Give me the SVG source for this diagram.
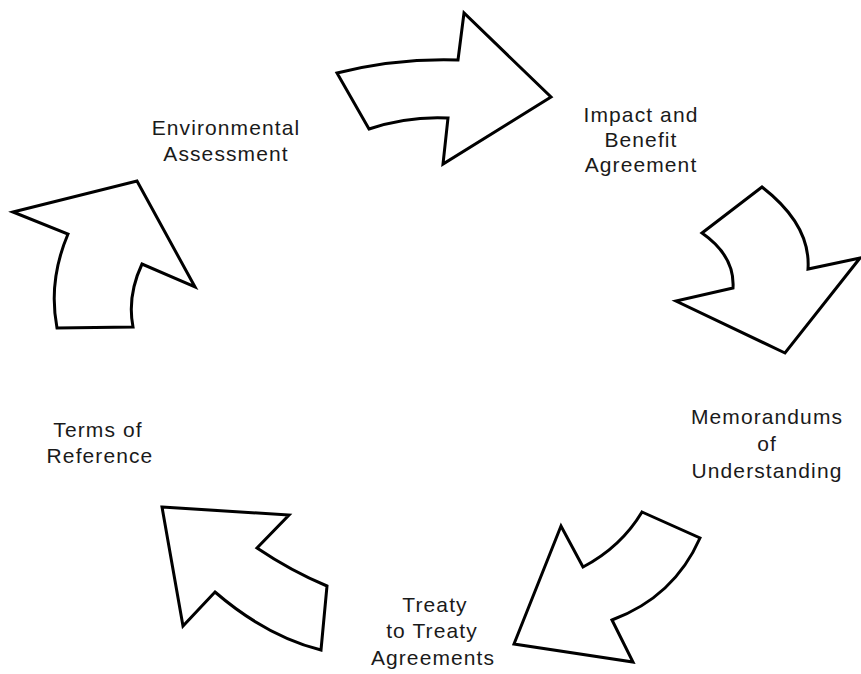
<svg xmlns="http://www.w3.org/2000/svg" width="861" height="674" viewBox="0 0 861 674">
  <style>
    .arrow { fill: #ffffff; stroke: #000000; stroke-width: 3; stroke-linejoin: miter; }
    .label { font-family: "Liberation Sans", Arial, sans-serif; font-size: 21px; letter-spacing: 1.1px; fill: #1a1a1a; text-anchor: middle; }
  </style>
  <rect width="861" height="674" fill="#ffffff"/>

  <!-- curved block arrows forming the cycle -->
  <g id="connectors">
    <path id="arrow-top" class="arrow" d="M337,73 Q397,58 458,60 L464,13 L551,97 L443,164 L448,118 Q408,116 369,129 Z"/>
    <path id="arrow-right" class="arrow" d="M762,187 L702,233 Q735,256 733,288 L676,301 L785,353 L860,258 L808,269 Q811,225 762,187 Z"/>
    <path id="arrow-bottom-right" class="arrow" d="M642,512 L700,538 Q674,597 612,620 L633,662 L514,644 L561,526 L583,567 Q621,547 642,512 Z"/>
    <path id="arrow-bottom-left" class="arrow" d="M162,507 L289,515 L257,548 Q291,571 327,586 L321,650 Q266,636 215,592 L183,626 Z"/>
    <path id="arrow-left" class="arrow" d="M13,212 L137,181 L195,287 L142,264 Q127,296 133,327 L57,328 Q48,281 68,234 Z"/>
  </g>

  <g id="environmental-assessment">
    <text class="label" x="226" y="135">Environmental</text>
    <text class="label" x="226" y="161">Assessment</text>
  </g>
  <g id="impact-benefit-agreement">
    <text class="label" x="641" y="122">Impact and</text>
    <text class="label" x="641" y="147">Benefit</text>
    <text class="label" x="641" y="172">Agreement</text>
  </g>
  <g id="memorandums-of-understanding">
    <text class="label" x="767" y="424">Memorandums</text>
    <text class="label" x="767" y="451">of</text>
    <text class="label" x="767" y="478">Understanding</text>
  </g>
  <g id="treaty-to-treaty-agreements">
    <text class="label" x="435" y="612">Treaty</text>
    <text class="label" x="432" y="638">to Treaty</text>
    <text class="label" x="433" y="665">Agreements</text>
  </g>
  <g id="terms-of-reference">
    <text class="label" x="98" y="437">Terms of</text>
    <text class="label" x="100" y="463">Reference</text>
  </g>
</svg>
